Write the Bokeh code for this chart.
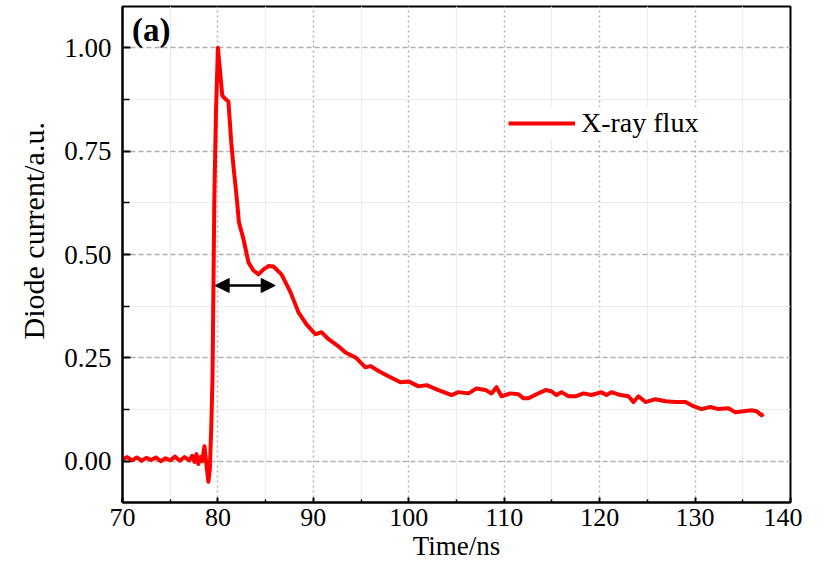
from bokeh.plotting import figure
from bokeh.models import (FixedTicker, Arrow, NormalHead, Label, Legend, LegendItem,
                          NumeralTickFormatter, Range1d, Title)
from bokeh.embed import file_html
from bokeh.resources import INLINE

# ---- data ----
time_ns = [70.0, 70.5, 71.0, 71.5, 72.0, 72.5, 73.0, 73.5, 74.0, 74.5, 75.0, 75.5,
           76.0, 76.5, 77.0, 77.3, 77.55, 77.75, 77.95, 78.15, 78.35, 78.59, 78.8,
           79.0, 79.15, 79.3, 79.43, 79.53, 79.62, 79.8, 80.0, 80.2, 80.45, 80.7,
           81.1, 81.4, 81.63, 82.0, 82.2, 82.68, 83.2, 83.7, 84.25, 84.78, 85.3,
           85.82, 86.66, 87.6, 88.44, 89.28, 90.22, 90.85, 91.59, 92.63, 93.37,
           94.42, 95.46, 95.99, 96.83, 97.66, 99.13, 99.97, 101.02, 101.86, 103.11,
           104.48, 105.21, 106.26, 107.1, 108.04, 108.67, 109.19, 109.72, 110.66,
           111.5, 112.02, 112.54, 113.38, 114.33, 114.95, 115.48, 116.0, 116.74,
           117.47, 118.31, 119.15, 120.19, 120.72, 121.24, 122.18, 123.02, 123.55,
           124.07, 124.81, 125.85, 126.9, 127.95, 129.0, 129.83, 130.67, 131.62,
           132.45, 133.5, 134.23, 135.07, 135.91, 136.44, 136.96, 137.17]
current_au = [0.004, 0.010, 0.002, 0.009, 0.001, 0.008, 0.003, 0.009, 0.000, 0.007,
              0.002, 0.011, 0.001, 0.010, 0.002, 0.013, -0.002, 0.017, -0.007, 0.010,
              0.000, 0.036, -0.010, -0.050, -0.020, 0.080, 0.200, 0.420, 0.630, 0.850,
              1.000, 0.950, 0.885, 0.878, 0.870, 0.770, 0.713, 0.630, 0.578, 0.537,
              0.481, 0.462, 0.452, 0.464, 0.472, 0.471, 0.452, 0.409, 0.360, 0.331,
              0.307, 0.312, 0.295, 0.278, 0.263, 0.251, 0.227, 0.230, 0.218, 0.208,
              0.191, 0.193, 0.181, 0.184, 0.172, 0.160, 0.167, 0.164, 0.176, 0.172,
              0.164, 0.179, 0.157, 0.164, 0.162, 0.152, 0.152, 0.162, 0.172, 0.169,
              0.160, 0.167, 0.157, 0.157, 0.164, 0.160, 0.167, 0.160, 0.167, 0.160,
              0.157, 0.143, 0.157, 0.143, 0.150, 0.145, 0.143, 0.143, 0.133, 0.126,
              0.131, 0.126, 0.128, 0.118, 0.121, 0.123, 0.121, 0.111, 0.114]

x_ticks = [70, 80, 90, 100, 110, 120, 130, 140]
x_minor = [75, 85, 95, 105, 115, 125, 135]
y_ticks = [0.0, 0.25, 0.5, 0.75, 1.0]
y_minor = [0.125, 0.375, 0.625, 0.875]

arrow_x_start = [79.71]
arrow_x_end = [86.0]
arrow_y = [0.425]

FONT = "Liberation Serif"

p = figure(frame_width=668, frame_height=496,
           x_range=Range1d(70, 140), y_range=Range1d(-0.1, 1.1),
           output_backend="svg", toolbar_location=None,
           min_border_left=122, min_border_top=6, min_border_right=12,
           min_border_bottom=0, background_fill_color="white")

p.outline_line_color = "black"
p.outline_line_width = 2
p.outline_line_alpha = 1

# axes
for ax in (p.xaxis[0], p.yaxis[0]):
    ax.axis_line_width = 2
    ax.major_tick_line_width = 2
    ax.minor_tick_line_width = 1.5
    ax.major_tick_out = 0
    ax.minor_tick_out = 0
    ax.major_label_text_font = FONT
    ax.major_label_text_color = "black"

p.xaxis.ticker = FixedTicker(ticks=x_ticks, minor_ticks=x_minor)
p.yaxis.ticker = FixedTicker(ticks=y_ticks, minor_ticks=y_minor)
p.yaxis.formatter = NumeralTickFormatter(format="0.00")
p.xaxis.major_label_text_font_size = "26px"
p.yaxis.major_label_text_font_size = "27px"
p.xaxis.major_tick_in = 5
p.xaxis.minor_tick_in = 3
p.yaxis.major_tick_in = 8
p.yaxis.minor_tick_in = 7
p.xaxis.major_label_standoff = 6
p.yaxis.major_label_standoff = 11

p.xaxis.axis_label = "Time/ns"
p.xaxis.axis_label_text_font = FONT
p.xaxis.axis_label_text_font_style = "normal"
p.xaxis.axis_label_text_font_size = "27px"
p.xaxis.axis_label_text_color = "black"
p.xaxis.axis_label_standoff = 2

# y-axis title (placed slightly above the frame centre, as in the reference)
ytitle = Title(text="Diode current/a.u.", align="left", offset=163,
               text_font=FONT, text_font_size="30px", text_font_style="normal",
               text_color="black", standoff=23)
p.add_layout(ytitle, "left")

# grids
p.xgrid.ticker = FixedTicker(ticks=x_ticks, minor_ticks=x_minor)
p.ygrid.ticker = FixedTicker(ticks=y_ticks, minor_ticks=y_minor)
p.xgrid.grid_line_color = "#b0b0b0"
p.xgrid.grid_line_dash = "2 3"
p.xgrid.grid_line_width = 1.5
p.ygrid.grid_line_color = "#b0b0b0"
p.ygrid.grid_line_dash = "5 3"
p.ygrid.grid_line_width = 1.3
for g in (p.xgrid[0], p.ygrid[0]):
    g.minor_grid_line_color = "#ececec"
    g.minor_grid_line_width = 1.2

r = p.line(time_ns, current_au, line_color="#ff0000", line_width=4,
           line_join="round")

p.add_layout(Arrow(start=NormalHead(size=14, fill_color="black", line_color="black"),
                   end=NormalHead(size=14, fill_color="black", line_color="black"),
                   x_start=arrow_x_start[0], y_start=arrow_y[0],
                   x_end=arrow_x_end[0], y_end=arrow_y[0],
                   line_width=2.5, line_color="black"))

p.add_layout(Label(x=71.0, y=1.043, text="(a)", text_font=FONT,
                   text_font_size="33px", text_font_style="bold",
                   text_baseline="middle", text_align="left", text_color="black"))

legend = Legend(items=[LegendItem(label="X-ray flux", renderers=[r])],
                location=(386, 363))
legend.border_line_color = None
legend.background_fill_color = "white"
legend.background_fill_alpha = 1
legend.padding = 0
legend.margin = 0
legend.glyph_width = 67
legend.glyph_height = 28
legend.label_height = 28
legend.label_standoff = 6
legend.label_text_font = FONT
legend.label_text_font_size = "28px"
legend.label_text_color = "black"
p.add_layout(legend)

open("out.html", "w").write(file_html(p, INLINE))
